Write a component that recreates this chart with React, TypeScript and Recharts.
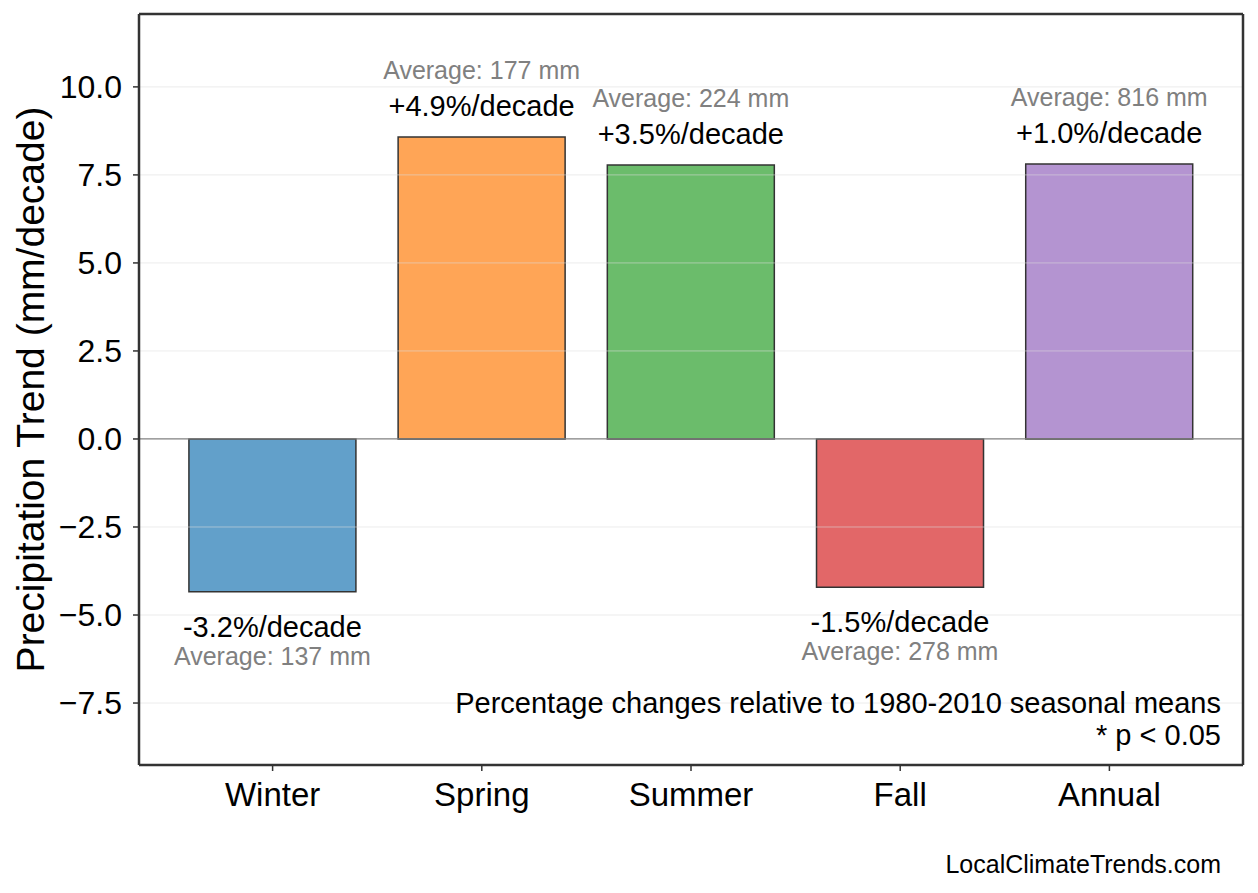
import React from "react";
import { BarChart, Bar, XAxis, YAxis, Cell, LabelList, ReferenceLine } from "recharts";

const seasons = ["Winter", "Spring", "Summer", "Fall", "Annual"];
const trends = [-4.34, 8.58, 7.78, -4.21, 7.81];
const pctLabels = ["-3.2%/decade", "+4.9%/decade", "+3.5%/decade", "-1.5%/decade", "+1.0%/decade"];
const averages = [137, 177, 224, 278, 816];
const colors = ["#1f77b4", "#ff7f0e", "#2ca02c", "#d62728", "#9467bd"];
const yTicks = [-7.5, -5, -2.5, 0, 2.5, 5, 7.5, 10];
const yDomain = [-9.26, 12.07];

const FONT = "'Liberation Sans', Arial, Helvetica, sans-serif";

const data = seasons.map((season, i) => ({ season, trend: trends[i] }));

const fmtTick = (v: number) => (v < 0 ? "\u2212" + Math.abs(v).toFixed(1) : v.toFixed(1));

function BarNote(props: any) {
    const vb = props.viewBox ?? props;
    const x = vb.x ?? props.x;
    const y = vb.y ?? props.y;
    const w = vb.width ?? props.width;
    const h = vb.height ?? props.height;
    const i = seasons.indexOf(props.value);
    if (i < 0) return null;
    const cx = x + w / 2;
    const top = Math.min(y, y + h);
    const bottom = Math.max(y, y + h);
    const up = trends[i] >= 0;
    return (
        <g style={{ fontFamily: FONT }}>
            <text x={cx} y={up ? top - 21 : bottom + 45} textAnchor="middle" fontSize={29} fill="#000">
                {pctLabels[i]}
            </text>
            <text x={cx} y={up ? top - 58 : bottom + 73} textAnchor="middle" fontSize={25} fill="#808080">
                {`Average: ${averages[i]} mm`}
            </text>
        </g>
    );
}

export default function App() {
    return (
        <div style={{ position: "absolute", left: 0, top: 0, width: 1258, height: 893, background: "#fff" }}>
            <BarChart
                width={1258}
                height={893}
                data={data}
                margin={{ top: 13, right: 14, bottom: 68, left: 0 }}
                barCategoryGap="10%"
            >
                <XAxis
                    dataKey="season"
                    height={60}
                    padding={{ left: 29, right: 29 }}
                    axisLine={{ stroke: "#333", strokeWidth: 2.5 }}
                    tickLine={{ stroke: "#333", strokeWidth: 1.5 }}
                    tickSize={6}
                    tickMargin={12}
                    tick={{ fill: "#000", fontSize: 33, fontFamily: FONT }}
                />
                <XAxis
                    xAxisId="top"
                    dataKey="season"
                    orientation="top"
                    height={1}
                    padding={{ left: 29, right: 29 }}
                    tick={false}
                    tickLine={false}
                    axisLine={{ stroke: "#333", strokeWidth: 2.5 }}
                />
                <YAxis
                    width={139}
                    domain={yDomain}
                    allowDataOverflow
                    ticks={yTicks}
                    tickFormatter={fmtTick}
                    axisLine={{ stroke: "#333", strokeWidth: 2.5 }}
                    tickLine={{ stroke: "#333", strokeWidth: 1.5 }}
                    tickSize={6}
                    tickMargin={11}
                    tick={{ fill: "#000", fontSize: 32, fontFamily: FONT }}
                    label={{
                        value: "Precipitation Trend (mm/decade)",
                        angle: -90,
                        position: "insideLeft",
                        offset: 30,
                        style: { textAnchor: "middle", fontSize: 39, fontFamily: FONT, fill: "#000" },
                    }}
                />
                <YAxis
                    yAxisId="right"
                    orientation="right"
                    width={1}
                    domain={yDomain}
                    allowDataOverflow
                    tick={false}
                    tickLine={false}
                    axisLine={{ stroke: "#333", strokeWidth: 2.5 }}
                />
                <Bar dataKey="trend" stroke="#333" strokeWidth={1.5} isAnimationActive={false}>
                    {data.map((d, i) => (
                        <Cell key={d.season} fill={colors[i]} fillOpacity={0.7} />
                    ))}
                    <LabelList dataKey="season" content={BarNote} />
                </Bar>
                {yTicks
                    .filter((t) => t !== 0)
                    .map((t) => (
                        <ReferenceLine key={t} y={t} stroke="#dcdcdc" strokeOpacity={0.55} strokeWidth={1} />
                    ))}
                <ReferenceLine y={0} stroke="#808080" strokeWidth={1.3} />
            </BarChart>
            <svg
                width={1258}
                height={893}
                style={{ position: "absolute", left: 0, top: 0, pointerEvents: "none", fontFamily: FONT }}
            >
                <text x={1221} y={713} textAnchor="end" fontSize={29} fill="#000">
                    Percentage changes relative to 1980-2010 seasonal means
                </text>
                <text x={1221} y={745} textAnchor="end" fontSize={29} fill="#000">
                    * p &lt; 0.05
                </text>
                <text x={1221} y={873} textAnchor="end" fontSize={25} fill="#000">
                    LocalClimateTrends.com
                </text>
            </svg>
        </div>
    );
}
